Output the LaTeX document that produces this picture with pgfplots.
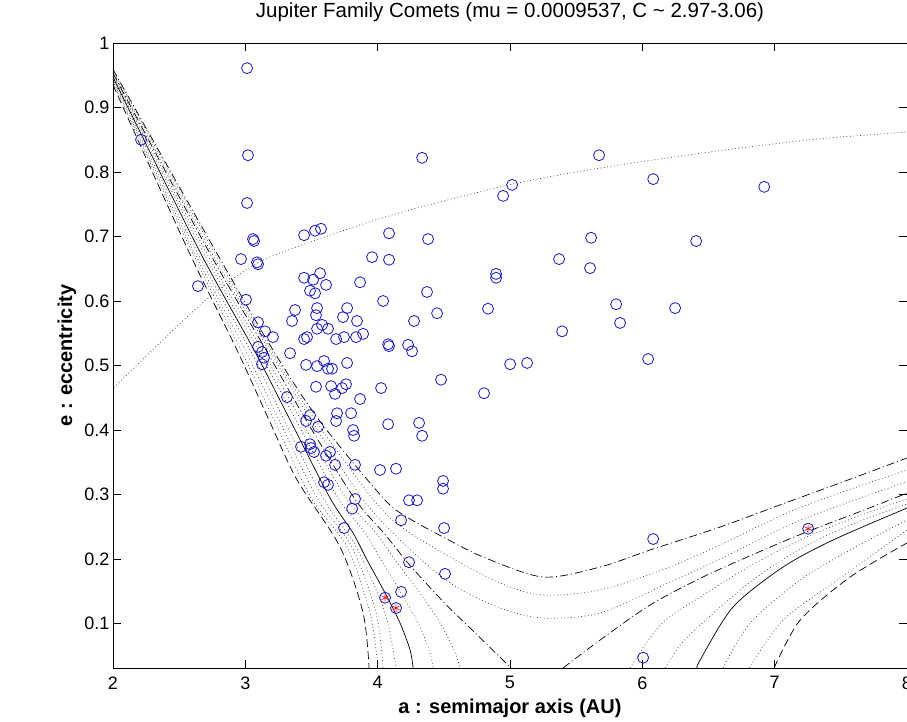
\documentclass[border=0pt]{standalone}
\usepackage{fontspec}
\setmainfont{Liberation Sans}
\usepackage{pgfplots}
\pgfplotsset{compat=1.18}
\definecolor{cblue}{RGB}{20,20,215}
\definecolor{cstar}{RGB}{235,20,20}

\pgfplotsset{
  dotline/.style={black!75, line width=0.7pt, dash pattern=on 0.8pt off 2.6pt, smooth, tension=0.5},
  ddline/.style={black, line width=0.7pt, dash pattern=on 8pt off 3pt on 1pt off 3pt, smooth, tension=0.5},
  dashline/.style={black, line width=0.7pt, dash pattern=on 8pt off 4pt, smooth, tension=0.5},
  solidline/.style={black, line width=0.7pt, smooth, tension=0.5},
}

\begin{document}
\begin{tikzpicture}[x=1pt,y=1pt]
\useasboundingbox (-113,-53) rectangle (794,668);
\begin{axis}[
  at={(0,0)}, anchor=south west,
  width=794pt, height=625pt, scale only axis,
  xmin=2, xmax=8, ymin=0.031, ymax=1,
  xtick={2,3,4,5,6,7,8},
  ytick={0.1,0.2,0.3,0.4,0.5,0.6,0.7,0.8,0.9,1},
  tick align=inside, major tick length=8pt,
  axis line style={black, line width=0.7pt},
  every tick/.style={black, line width=0.7pt},
  /pgf/number format/assume math mode=true,
  /pgf/number format/fixed,
  ticklabel style={font=\fontsize{18}{20}\selectfont},
  xticklabel style={yshift=-5pt},
  title={Jupiter Family Comets (mu = 0.0009537, C \textasciitilde{} 2.97-3.06)},
  title style={font=\fontsize{20.5}{23}\selectfont, at={(axis description cs:0.5,1.04)}, anchor=center},
  xlabel={a : semimajor axis (AU)},
  xlabel style={font=\fontsize{20}{23}\selectfont\bfseries, at={(axis description cs:0.5,-0.064)}, anchor=center},
  ylabel={e : eccentricity},
  ylabel style={font=\fontsize{20}{23}\selectfont\bfseries, at={(axis description cs:-0.058,0.5)}, anchor=center},
]

% upper dotted curve
\addplot[dotline] coordinates {(2.000,0.464) (2.028,0.470) (2.378,0.540) (2.733,0.607) (3.111,0.661) (3.640,0.702) (4.169,0.737) (5.016,0.781) (5.681,0.806) (6.437,0.829) (7.268,0.850) (8.000,0.862)};

% left family
\addplot[dashline] coordinates {(2.000,0.935) (2.567,0.679) (2.937,0.524) (3.179,0.4155) (3.391,0.3225) (3.716,0.2186) (3.890,0.1163) (3.935,0.031)};
\addplot[dotline] coordinates {(2.000,0.938) (2.590,0.679) (2.967,0.524) (3.217,0.4155) (3.497,0.2946) (3.769,0.2186) (3.943,0.1163) (4.003,0.031)};
\addplot[dotline] coordinates {(2.000,0.941) (2.605,0.679) (2.998,0.524) (3.255,0.4155) (3.542,0.2946) (3.806,0.2186) (3.988,0.1163) (4.041,0.031)};
\addplot[dotline] coordinates {(2.000,0.944) (2.627,0.679) (3.036,0.524) (3.293,0.4155) (3.587,0.2946) (3.837,0.2186) (4.056,0.1163) (4.139,0.031)};
\addplot[solidline] coordinates {(2.000,0.947) (2.650,0.679) (3.066,0.524) (3.338,0.4155) (3.640,0.2946) (3.814,0.2403) (3.920,0.1984) (4.056,0.1473) (4.169,0.1008) (4.245,0.0589) (4.268,0.031)};
\addplot[dotline] coordinates {(2.000,0.949) (2.673,0.679) (3.096,0.524) (3.383,0.4155) (3.701,0.2946) (3.905,0.2403) (4.026,0.1984) (4.177,0.1473) (4.305,0.1008) (4.389,0.0589) (4.419,0.031)};
\addplot[dotline] coordinates {(2.000,0.951) (2.695,0.679) (3.126,0.524) (3.421,0.4155) (3.761,0.2946) (3.988,0.2403) (4.132,0.1984) (4.320,0.1473) (4.472,0.1008) (4.577,0.0589) (4.623,0.031)};
\addplot[ddline] coordinates {(2.000,0.953) (2.718,0.679) (3.156,0.524) (3.459,0.4155) (3.822,0.2946) (4.056,0.2380) (4.245,0.1900) (4.509,0.1310) (4.774,0.0780) (5.008,0.031)};

% U-shaped curves
\addplot[dotline] coordinates {(2.000,0.955) (2.733,0.679) (3.179,0.524) (3.497,0.4155) (3.882,0.2946) (4.169,0.2295) (4.547,0.1628) (4.925,0.1240) (5.250,0.1085) (5.681,0.1163) (6.187,0.1620) (6.588,0.2000) (7.193,0.2600) (8.000,0.320)};
\addplot[dotline] coordinates {(2.000,0.957) (2.756,0.679) (3.194,0.524) (3.527,0.4155) (3.958,0.2946) (4.169,0.2512) (4.494,0.2093) (4.925,0.1628) (5.250,0.1442) (5.681,0.152) (6.187,0.186) (6.588,0.2220) (7.193,0.2800) (8.000,0.338)};
\addplot[ddline] coordinates {(2.000,0.959) (2.771,0.679) (3.209,0.524) (3.557,0.4155) (4.041,0.2946) (4.222,0.265) (4.494,0.2341) (4.797,0.2031) (5.250,0.1721) (5.681,0.1876) (6.059,0.214) (6.588,0.2496) (7.042,0.2840) (7.495,0.3180) (8.000,0.3566)};

% right family
\addplot[ddline] coordinates {(5.401,0.031) (5.681,0.0744) (6.059,0.1287) (6.437,0.1700) (6.815,0.2050) (7.193,0.2380) (7.600,0.2700) (8.000,0.302)};
\addplot[dotline] coordinates {(5.908,0.031) (6.135,0.0977) (6.437,0.1411) (6.815,0.1891) (7.193,0.2295) (7.600,0.2640) (8.000,0.293)};
\addplot[dotline] coordinates {(6.172,0.031) (6.286,0.0667) (6.437,0.0977) (6.815,0.1643) (7.193,0.2155) (7.571,0.2527) (8.000,0.2853)};
\addplot[solidline] coordinates {(6.414,0.031) (6.437,0.0434) (6.686,0.1256) (7.064,0.1876) (7.442,0.2295) (8.000,0.279)};
\addplot[dotline] coordinates {(6.611,0.031) (6.815,0.1008) (7.193,0.1674) (7.571,0.214) (8.000,0.2605)};
\addplot[dotline] coordinates {(6.807,0.031) (7.064,0.1054) (7.442,0.1628) (8.000,0.245)};
\addplot[dashline] coordinates {(6.996,0.031) (7.193,0.1054) (7.571,0.1721) (8.000,0.2248)};

% comets
\addplot[only marks, mark=o, mark size=5.5pt, color=cblue, mark options={line width=0.8pt}] table {
a e
3.013 0.961
2.212 0.850
3.020 0.826
3.013 0.752
3.058 0.696
3.066 0.693
2.967 0.665
3.088 0.660
3.096 0.657
3.444 0.702
3.527 0.709
3.572 0.712
4.086 0.705
3.958 0.668
4.086 0.664
4.336 0.822
5.673 0.826
5.016 0.780
4.948 0.763
6.082 0.789
6.921 0.777
4.381 0.696
5.613 0.698
6.407 0.693
5.371 0.665
5.605 0.651
4.895 0.642
4.895 0.636
2.642 0.623
3.005 0.602
3.444 0.636
3.512 0.633
3.565 0.643
3.610 0.625
3.489 0.616
3.527 0.612
3.867 0.629
4.373 0.614
4.041 0.600
3.376 0.586
3.353 0.569
3.542 0.589
3.534 0.578
3.769 0.589
3.738 0.575
3.844 0.569
4.275 0.569
4.449 0.581
4.834 0.588
5.802 0.595
5.832 0.566
6.248 0.589
5.394 0.553
3.096 0.567
3.149 0.553
3.209 0.544
3.444 0.541
3.466 0.544
3.542 0.557
3.580 0.563
3.625 0.557
3.686 0.541
3.746 0.544
3.837 0.544
3.890 0.549
4.079 0.533
4.086 0.530
4.230 0.532
4.260 0.522
3.096 0.529
3.126 0.521
3.141 0.512
3.126 0.502
3.338 0.519
3.459 0.501
3.542 0.499
3.595 0.507
3.625 0.495
3.655 0.495
3.769 0.504
5.001 0.502
5.129 0.504
6.044 0.510
3.534 0.467
3.648 0.468
3.678 0.456
3.731 0.465
3.761 0.471
3.867 0.448
4.026 0.465
4.479 0.478
4.804 0.457
3.315 0.451
3.489 0.423
3.459 0.414
3.550 0.405
3.693 0.426
3.686 0.414
3.799 0.426
3.814 0.400
3.822 0.391
4.079 0.409
4.313 0.411
4.336 0.391
3.421 0.374
3.489 0.378
3.497 0.372
3.519 0.366
3.610 0.360
3.640 0.366
3.678 0.346
3.829 0.346
4.018 0.338
4.139 0.340
3.595 0.319
3.625 0.315
4.494 0.321
4.494 0.309
3.829 0.293
4.237 0.291
4.298 0.291
3.807 0.278
3.746 0.248
4.177 0.260
4.502 0.248
4.237 0.195
4.509 0.177
4.177 0.149
6.082 0.231
6.006 0.047
4.056 0.140
4.139 0.124
7.253 0.247
};

% comets on the contour
\addplot[only marks, mark=asterisk, mark size=4pt, color=cstar, mark options={line width=0.7pt}] table {
a e
4.056 0.140
4.139 0.124
7.253 0.247
};
\end{axis}
\end{tikzpicture}
\end{document}
